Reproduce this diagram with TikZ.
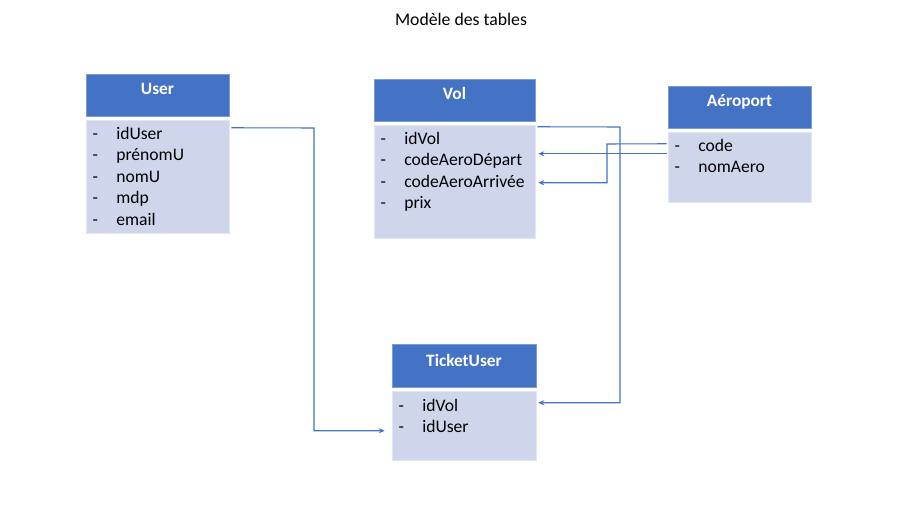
\documentclass[tikz,border=0pt]{standalone}
\usepackage{fontspec}
\setmainfont{Carlito}
\usetikzlibrary{arrows.meta,fit}
\definecolor{hdr}{HTML}{4472C4}
\definecolor{bdy}{HTML}{CFD5EA}
\definecolor{ln}{HTML}{4472C4}
\newcommand{\rw}[1]{\makebox[10.5pt]{-}\hspace{10.5pt}#1}
\begin{document}
\begin{tikzpicture}[x=0.75pt,y=-0.75pt,
  hdrbox/.style={fill=hdr, draw=hdr!70!white, line width=0.4pt, inner sep=0pt},
  bdybox/.style={fill=bdy, draw=bdy!60!white, line width=0.4pt, inner sep=0pt},
  hdrtext/.style={anchor=base, inner sep=0pt, text=white, font=\fontsize{13}{15}\selectfont\bfseries},
  row/.style={anchor=base west, inner sep=0pt, font=\fontsize{13.2}{15}\selectfont},
  conn/.style={draw=ln, line width=0.8pt, -{Stealth[length=4.5pt,width=3.8pt]}}]
\useasboundingbox[fill=white] (0,0) rectangle (906,512);

\node[anchor=base, inner sep=0pt, font=\fontsize{13.3}{15}\selectfont] (title) at (461,25) {Modèle des tables};

% User
\node[hdrbox, fit={(86,74) (229,116)}] (uhead) {};
\node[bdybox, fit={(86,120) (229,233)}] (ubody) {};
\node[hdrtext] (ut) at (157.5,94) {User};
\node[row] (u1) at (88,139) {\rw{idUser}};
\node[row] (u2) at (88,160.6) {\rw{prénomU}};
\node[row] (u3) at (88,182.2) {\rw{nomU}};
\node[row] (u4) at (88,203.8) {\rw{mdp}};
\node[row] (u5) at (88,225.4) {\rw{email}};

% Vol
\node[hdrbox, fit={(374,79) (535,121)}] (vhead) {};
\node[bdybox, fit={(374,125) (535,238)}] (vbody) {};
\node[hdrtext] (vt) at (454.5,99) {Vol};
\node[row] (v1) at (376,144) {\rw{idVol}};
\node[row] (v2) at (376,165.6) {\rw{codeAeroDépart}};
\node[row] (v3) at (376,187.2) {\rw{codeAeroArrivée}};
\node[row] (v4) at (376,208.8) {\rw{prix}};

% Aeroport
\node[hdrbox, fit={(668,86) (811,128)}] (ahead) {};
\node[bdybox, fit={(668,132) (811,202)}] (abody) {};
\node[hdrtext] (at) at (739.5,106) {Aéroport};
\node[row] (a1) at (670,151) {\rw{code}};
\node[row] (a2) at (670,172) {\rw{nomAero}};

% TicketUser
\node[hdrbox, fit={(392,344) (536,387)}] (thead) {};
\node[bdybox, fit={(392,391) (536,460)}] (tbody) {};
\node[hdrtext] (tt) at (464,366) {TicketUser};
\node[row] (t1) at (394,411) {\rw{idVol}};
\node[row] (t2) at (394,432) {\rw{idUser}};

% connectors
\coordinate (c1) at (314,128);
\draw[conn] ([shift={(2,8)}]ubody.north east) -- (c1) |- ([shift={(-7,40)}]tbody.north west);
\coordinate (c2) at (620,127);
\draw[conn] ([shift={(2,2)}]vbody.north east) -- (c2) |- ([shift={(2,12)}]tbody.north east);
\draw[conn] ([shift={(-1,22)}]abody.north west) -- ([shift={(3,29)}]vbody.north east);
\coordinate (c3) at (607,144);
\draw[conn] ([shift={(-1,12)}]abody.north west) -- (c3) |- ([shift={(3,58)}]vbody.north east);
\end{tikzpicture}
\end{document}
